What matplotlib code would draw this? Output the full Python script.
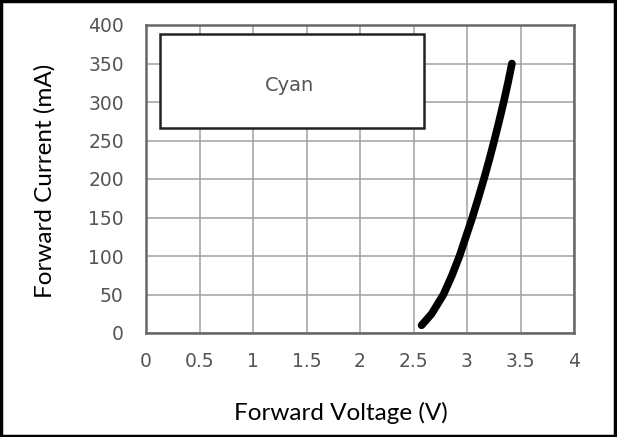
import matplotlib
matplotlib.use("Agg")
import matplotlib.pyplot as plt
from matplotlib.patches import Rectangle

# forward voltage (V) vs forward current (mA)
voltage = [2.575, 2.62, 2.67, 2.78, 2.86, 2.93, 2.99, 3.05, 3.105, 3.158,
           3.208, 3.255, 3.30, 3.343, 3.383, 3.42]
current = [10, 17, 25, 50, 75, 100, 125, 150, 175, 200,
           225, 250, 275, 300, 325, 350]

x_ticks = [0, 0.5, 1, 1.5, 2, 2.5, 3, 3.5, 4]
x_labels = ["0", "0.5", "1", "1.5", "2", "2.5", "3", "3.5", "4"]
y_ticks = [0, 50, 100, 150, 200, 250, 300, 350, 400]

legend_text = "Cyan"

fig = plt.figure(figsize=(6.17, 4.37), dpi=100)
ax = fig.add_axes([146 / 617, 1 - 333 / 437, 428 / 617, 308 / 437])

ax.plot(voltage, current, color="black", lw=5.5, solid_capstyle="round",
        solid_joinstyle="round")

ax.set_xlim(0, 4)
ax.set_ylim(0, 400)
ax.set_xticks(x_ticks)
ax.set_xticklabels(x_labels)
ax.set_yticks(y_ticks)
ax.grid(True, color="#a0a0a0", lw=1.1)
ax.set_axisbelow(True)
ax.tick_params(length=0, labelsize=13.5, labelcolor="#555555")
ax.tick_params(axis="y", pad=16)
ax.tick_params(axis="x", pad=14)
for s in ax.spines.values():
    s.set_color("#666666")
    s.set_linewidth(1.8)

## label box
ax.add_patch(Rectangle((0.13, 266), 2.47, 122, fill=True, fc="white",
                       ec="#222222", lw=1.8, zorder=3))
ax.text(1.34, 322, legend_text, ha="center", va="center", fontsize=14,
        color="#555555", zorder=4)

fig.text(341 / 617, 1 - 413 / 437, "Forward Voltage (V)", ha="center",
         va="center", fontsize=17.5, family="Lato")
fig.text(45 / 617, 1 - 181 / 437, "Forward Current (mA)", ha="center",
         va="center", rotation=90, fontsize=17.5, family="Lato")

## outer black frame
fig.add_artist(Rectangle((0.002, 0.003), 0.995, 0.994, transform=fig.transFigure,
                         fill=False, ec="black", lw=2.5))

fig.savefig("out.png", dpi=100)
